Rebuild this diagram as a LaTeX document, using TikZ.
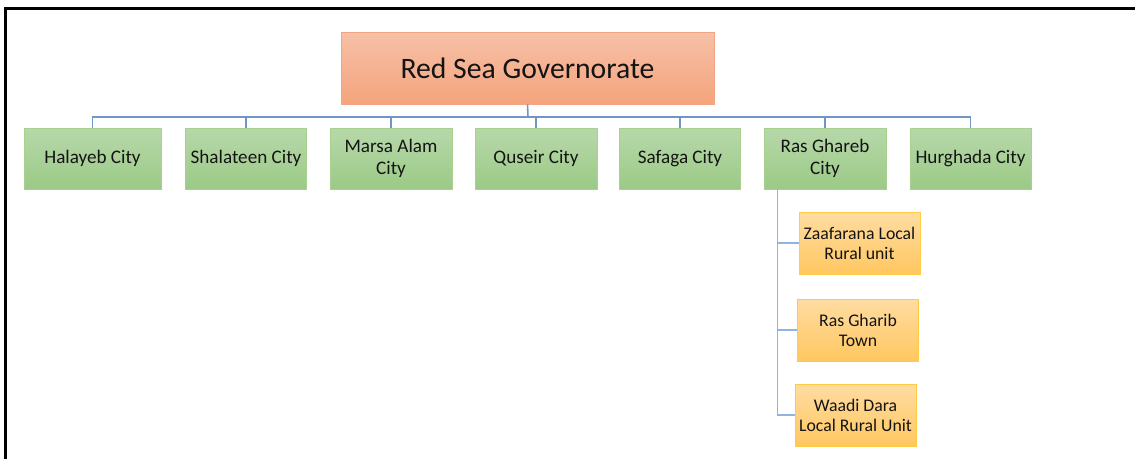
\documentclass[tikz,border=0pt]{standalone}
\usepackage{fontspec}
\setmainfont{Carlito}
\usetikzlibrary{calc}
\definecolor{govtop}{HTML}{F7C0A8}
\definecolor{govbot}{HTML}{F4A47C}
\definecolor{govline}{HTML}{F2A582}
\definecolor{citytop}{HTML}{B7D8AA}
\definecolor{citybot}{HTML}{9BCA85}
\definecolor{cityline}{HTML}{A8D08E}
\definecolor{unittop}{HTML}{FFDCA2}
\definecolor{unitbot}{HTML}{FFC760}
\definecolor{unitline}{HTML}{FFCB45}
\definecolor{linkblue}{HTML}{7096C4}
\definecolor{linklight}{HTML}{8DB4E2}
\definecolor{inkdark}{HTML}{141414}
\tikzset{
  govbox/.style={draw=govline, top color=govtop, bottom color=govbot,
    minimum width=7.46cm, minimum height=1.44cm, text=inkdark,
    font=\fontsize{16.9}{20}\selectfont},
  citybox/.style={draw=cityline, top color=citytop, bottom color=citybot,
    minimum height=1.22cm, inner sep=2pt, anchor=north, align=center,
    text=inkdark, font=\fontsize{10.9}{12.5}\selectfont},
  unitbox/.style={draw=unitline, top color=unittop, bottom color=unitbot,
    minimum width=2.42cm, minimum height=1.24cm, inner sep=2pt, align=center,
    text=inkdark, font=\fontsize{10.1}{11.3}\selectfont},
  link/.style={draw=linkblue, line width=0.6pt},
}

\begin{document}
\begin{tikzpicture}[x=0.02cm, y=-0.02cm]
  \useasboundingbox (0,0) rectangle (1135,459);
  % frame, cut off at the right and bottom
  \draw[line width=1.7pt] (5.5,459) -- (5.5,8.5) -- (1135,8.5);

  \node[govbox] (gov) at (527.5,68) {Red Sea Governorate};

  % city row
  \foreach \id/\cx/\bw/\lab in {halayeb/92.5/2.74/{Halayeb City},
      shalateen/246/2.42/{Shalateen City}, marsa/391/2.44/{Marsa Alam\\City},
      quseir/536/2.44/{Quseir City}, safaga/680/2.42/{Safaga City},
      rasghareb/825/2.44/{Ras Ghareb\\City}, hurghada/970.5/2.42/{Hurghada City}}{%
    \node[citybox, minimum width=\bw cm] (\id) at (\cx,128) {\lab};}

  % local units under Ras Ghareb
  \node[unitbox] (zaafarana) at (859.5,243) {Zaafarana Local\\Rural unit};
  \node[unitbox] (rasgharib) at (858,330) {Ras Gharib\\Town};
  \node[unitbox] (waadidara) at (855.5,415) {Waadi Dara\\Local Rural Unit};

  \coordinate (bus) at (528,117);
  \draw[link, line width=0.9pt] (gov.south) -- (bus);
  \foreach \id in {halayeb,shalateen,marsa,quseir,safaga,rasghareb,hurghada}
    \draw[link] (\id.north) |- (bus);

  \coordinate (trunk) at ($(rasghareb.south west)+(14,0)$);
  \foreach \id in {zaafarana,rasgharib,waadidara}
    \draw[link, draw=linklight] (trunk) |- (\id.west);
\end{tikzpicture}
\end{document}
